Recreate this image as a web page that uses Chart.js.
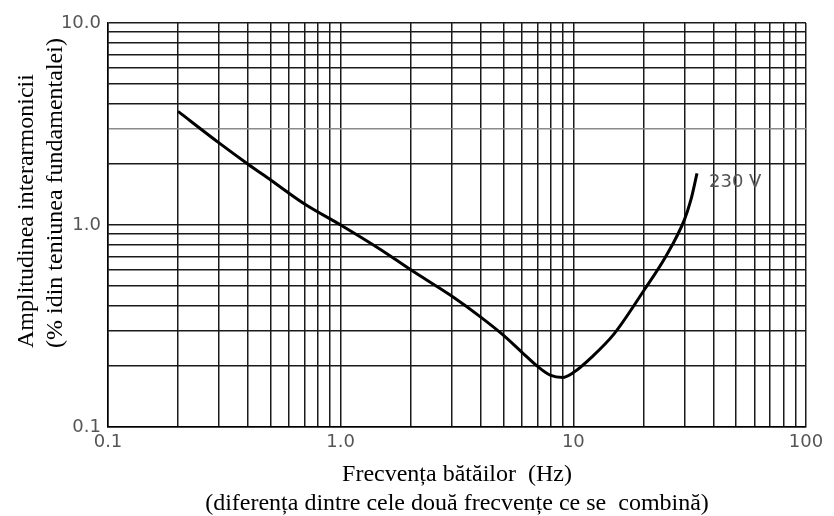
<!DOCTYPE html>
<html>
<head>
<meta charset="utf-8">
<script src="https://cdn.jsdelivr.net/npm/chart.js@4/dist/chart.umd.min.js"></script>
<style>
  html, body { margin: 0; padding: 0; background: #fff; }
  #chart { display: block; }
</style>
</head>
<body>
<canvas id="chart" width="834" height="516"></canvas>
<script>
// Curve (log-log)
const freqHz = [0.2, 0.3, 0.4, 0.5, 0.7, 1.0, 1.5, 2, 3, 4, 5, 6, 7, 8, 9, 10, 12, 15, 20, 25, 30, 32, 34];
const amplitude = [3.65, 2.55, 2.0, 1.67, 1.27, 1.0, 0.75, 0.6, 0.445, 0.35, 0.285, 0.235, 0.2, 0.18, 0.176, 0.186, 0.222, 0.29, 0.47, 0.7, 1.06, 1.33, 1.8];
const curveLabel = '230 V';

// Grid lines (1..9 per decade)
const xGridTicks = [0.1, 0.2, 0.3, 0.4, 0.5, 0.6, 0.7, 0.8, 0.9,
                    1, 2, 3, 4, 5, 6, 7, 8, 9,
                    10, 20, 30, 40, 50, 60, 70, 80, 90, 100];
const yGridTicks = [0.1, 0.2, 0.3, 0.4, 0.5, 0.6, 0.7, 0.8, 0.9,
                    1, 2, 3, 4, 5, 6, 7, 8, 9, 10];

// Labelled ticks
const xLabelValues = [0.1, 1, 10, 100];
const xLabelTexts = ['0.1', '1.0', '10', '100'];
const yLabelValues = [0.1, 1, 10];
const yLabelTexts = ['0.1', '1.0', '10.0'];
const yGrayLines = [3];

const xTitle = ['Frecvența bătăilor  (Hz)', '(diferența dintre cele două frecvențe ce se  combină)'];
const yTitle = ['Amplitudinea interarmonicii', '(% idin teniunea fundamentalei)'];

const tickFont = { family: 'DejaVu Sans', size: 18 };
const titleFont = { family: 'Liberation Serif', size: 24, lineHeight: 1.2 };

function labelFor(values, texts, v) {
  for (let i = 0; i < values.length; i++) {
    if (Math.abs(values[i] - v) < 1e-9) return texts[i];
  }
  return '';
}

// "230 V" next to the end of the curve
const endLabelPlugin = {
  id: 'endLabel',
  afterDatasetsDraw(chart) {
    const ctx = chart.ctx;
    const n = freqHz.length - 1;
    const px = chart.scales.x.getPixelForValue(freqHz[n]);
    const py = chart.scales.y.getPixelForValue(amplitude[n]);
    ctx.save();
    ctx.font = '18px "DejaVu Sans"';
    ctx.fillStyle = '#555';
    ctx.textAlign = 'left';
    ctx.textBaseline = 'middle';
    ctx.fillText(curveLabel, px + 12, py + 9);
    ctx.restore();
  }
};

// y title: two rotated lines, both starting from the same bottom point
const yTitlePlugin = {
  id: 'yTitle',
  afterDraw(chart) {
    const ctx = chart.ctx;
    const y = chart.scales.y;
    const lh = titleFont.size * titleFont.lineHeight;
    ctx.save();
    ctx.font = titleFont.size + 'px "' + titleFont.family + '"';
    ctx.fillStyle = '#000';
    ctx.textAlign = 'left';
    ctx.textBaseline = 'alphabetic';
    ctx.translate(y.left + 33, y.bottom - 79);
    ctx.rotate(-Math.PI / 2);
    yTitle.forEach((line, i) => ctx.fillText(line, 0, i * lh));
    ctx.restore();
  }
};

new Chart(document.getElementById('chart'), {
  type: 'line',
  data: {
    datasets: [{
      data: freqHz.map((f, i) => ({ x: f, y: amplitude[i] })),
      borderColor: '#000',
      borderWidth: 3,
      pointRadius: 0,
      fill: false,
      cubicInterpolationMode: 'monotone'
    }]
  },
  options: {
    responsive: false,
    animation: false,
    devicePixelRatio: 1,
    layout: { padding: { top: 23, right: 28, bottom: 0, left: 0 } },
    plugins: {
      legend: { display: false },
      tooltip: { enabled: false }
    },
    scales: {
      x: {
        type: 'logarithmic',
        min: 0.1,
        max: 100,
        afterBuildTicks(scale) {
          scale.ticks = xGridTicks.map(v => ({ value: v }));
        },
        afterFit(scale) {
          scale.height = 89;
        },
        grid: {
          color: '#1a1a1a',
          lineWidth: 1.5,
          drawTicks: false
        },
        border: { display: true, color: '#000', width: 1.5 },
        ticks: {
          autoSkip: false,
          maxRotation: 0,
          padding: 5,
          color: '#555',
          font: tickFont,
          callback: v => labelFor(xLabelValues, xLabelTexts, v)
        },
        title: {
          display: true,
          text: xTitle,
          color: '#000',
          font: titleFont,
          padding: { top: 0, bottom: -2 }
        }
      },
      y: {
        type: 'logarithmic',
        min: 0.1,
        max: 10,
        afterBuildTicks(scale) {
          scale.ticks = yGridTicks.map(v => ({ value: v }));
        },
        afterFit(scale) {
          scale.width = 108;
        },
        grid: {
          color: ctx => (ctx.tick && yGrayLines.includes(ctx.tick.value)) ? '#8a8a8a' : '#1a1a1a',
          lineWidth: 1.5,
          drawTicks: false
        },
        border: { display: true, color: '#000', width: 1.5 },
        ticks: {
          autoSkip: false,
          padding: 7,
          color: '#555',
          font: tickFont,
          callback: v => labelFor(yLabelValues, yLabelTexts, v)
        },
        title: { display: false }
      }
    }
  },
  plugins: [endLabelPlugin, yTitlePlugin]
});
</script>
</body>
</html>
